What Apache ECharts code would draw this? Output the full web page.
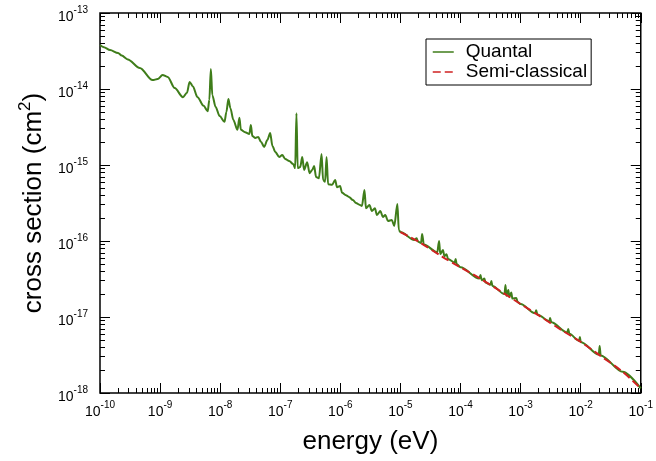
<!DOCTYPE html>
<html>
<head>
<meta charset="utf-8">
<script src="https://cdn.jsdelivr.net/npm/echarts@6/dist/echarts.min.js"></script>
<style>
    html, body { margin: 0; padding: 0; background: #fff; }
    #chart { width: 656px; height: 461px; }
</style>
</head>
<body>
<div id="chart"></div>
<script>
// energy (eV) and cross section (cm^2)
const quantalEnergy = [
    1e-10, 1.16e-10, 1.47e-10, 2e-10, 2.3e-10, 2.9e-10, 4.6e-10, 7.5e-10, 9.1e-10,
    1.1e-9, 1.34e-9, 1.75e-9, 2.4e-9, 2.8e-9, 3.1e-9, 3.5e-9, 4.2e-9, 5.3e-9, 6.2e-9, 6.6e-9, 7.0e-9, 7.4e-9, 8.4e-9, 9.8e-9,
    1.18e-8, 1.27e-8, 1.37e-8, 1.48e-8, 1.66e-8, 1.94e-8, 2.09e-8, 2.21e-8, 2.6e-8, 3.06e-8, 3.24e-8, 3.43e-8, 3.85e-8, 4.3e-8, 4.8e-8, 5.4e-8, 6.1e-8, 6.8e-8, 7.4e-8, 8.3e-8, 9.6e-8,
    1.08e-7, 1.21e-7, 1.41e-7, 1.64e-7, 1.77e-7, 1.86e-7, 1.95e-7, 2.15e-7, 2.32e-7, 2.5e-7, 2.8e-7, 3.08e-7, 3.4e-7, 3.66e-7, 3.95e-7, 4.4e-7, 4.87e-7, 5.16e-7, 5.57e-7, 5.9e-7, 6.25e-7, 7.3e-7, 8.2e-7, 8.8e-7, 9.9e-7,
    1.07e-6, 1.24e-6, 1.39e-6, 1.62e-6, 1.82e-6, 2.12e-6, 2.29e-6, 2.52e-6, 2.67e-6, 3.05e-6, 3.35e-6, 3.76e-6, 4.06e-6, 4.64e-6, 5.1e-6, 5.6e-6, 6.2e-6, 7.2e-6, 7.9e-6, 8.9e-6, 9.4e-6,
    1e-5, 1.7e-5, 1.86e-5, 1.95e-5, 2.2e-5, 2.3e-5, 2.45e-5, 4.1e-5, 4.4e-5, 4.6e-5, 5.1e-5, 5.4e-5, 5.85e-5, 6.2e-5, 8.0e-5, 8.3e-5, 8.6e-5,
    1e-4, 2.05e-4, 2.15e-4, 2.25e-4, 2.5e-4, 2.6e-4, 3.15e-4, 3.26e-4, 3.4e-4, 5.4e-4, 5.6e-4, 5.8e-4, 6.25e-4, 6.5e-4, 7.0e-4, 7.3e-4, 8.5e-4, 8.9e-4,
    1e-3, 1.75e-3, 1.82e-3, 1.9e-3, 3.0e-3, 3.1e-3, 3.25e-3, 6.0e-3, 6.2e-3, 6.5e-3, 9.4e-3, 9.7e-3,
    1e-2, 2.0e-2, 2.07e-2, 2.15e-2, 5e-2, 1e-1,
]
const quantalSigma = [
    3.8e-14, 3.55e-14, 3.25e-14, 2.98e-14, 2.75e-14, 2.45e-14, 1.89e-14, 1.31e-14, 1.35e-14,
    1.53e-14, 1.44e-14, 1.03e-14, 7.8e-15, 8.9e-15, 1.24e-14, 1.09e-14, 7.8e-15, 6.0e-15, 5.1e-15, 7.2e-15, 1.83e-14, 8.3e-15, 5.8e-15, 4.4e-15,
    3.7e-15, 5.0e-15, 7.4e-15, 5.6e-15, 3.9e-15, 2.9e-15, 4.2e-15, 2.9e-15, 2.7e-15, 2.56e-15, 3.36e-15, 2.4e-15, 2.27e-15, 2.34e-15, 2.0e-15, 1.73e-15, 2.13e-15, 2.64e-15, 1.78e-15, 1.48e-15, 1.27e-15,
    1.35e-15, 1.2e-15, 1.13e-15, 1.03e-15, 9.1e-16, 4.8e-15, 9.1e-16, 9.4e-16, 1.27e-15, 8.6e-16, 1.09e-15, 7.8e-16, 8.6e-16, 9.7e-16, 6.95e-16, 6.7e-16, 1.4e-15, 6.35e-16, 6.0e-16, 1.27e-15, 5.6e-16, 5.5e-16, 6.35e-16, 5.1e-16, 5.3e-16,
    4.3e-16, 4.0e-16, 3.8e-16, 3.46e-16, 3.16e-16, 2.98e-16, 2.89e-16, 4.7e-16, 2.7e-16, 2.98e-16, 2.48e-16, 2.7e-16, 2.2e-16, 2.48e-16, 2.07e-16, 2.2e-16, 1.83e-16, 1.89e-16, 1.58e-16, 3.07e-16, 1.4e-16,
    1.31e-16, 1.03e-16, 1.09e-16, 9.85e-17, 9.4e-17, 1.24e-16, 9.0e-17, 7.1e-17, 1.0e-16, 6.75e-17, 7.6e-17, 6.3e-17, 6.7e-17, 5.8e-17, 5.2e-17, 5.8e-17, 5.0e-17,
    4.5e-17, 3.2e-17, 3.57e-17, 3.05e-17, 3.2e-17, 2.85e-17, 2.65e-17, 2.98e-17, 2.55e-17, 2.0e-17, 2.64e-17, 1.9e-17, 2.27e-17, 1.83e-17, 2.1e-17, 1.75e-17, 1.78e-17, 1.58e-17,
    1.48e-17, 1.12e-17, 1.23e-17, 1.08e-17, 8.8e-18, 9.7e-18, 8.5e-18, 6.25e-18, 6.95e-18, 6.0e-18, 4.85e-18, 5.45e-18,
    4.7e-18, 3.2e-18, 4.16e-18, 3.12e-18, 1.9e-18, 1.15e-18,
]
const semiEnergy = [1e-5, 2e-5, 5e-5, 1e-4, 2e-4, 5e-4, 1e-3, 2e-3, 5e-3, 1e-2, 2e-2, 5e-2, 1e-1]
const semiSigma = [1.31e-16, 9.8e-17, 6.2e-17, 4.5e-17, 3.3e-17, 2.1e-17, 1.48e-17, 1.05e-17, 6.6e-18, 4.7e-18, 3.2e-18, 1.9e-18, 1.15e-18]

// tick labels are powers of ten
const xExponents = [-10, -9, -8, -7, -6, -5, -4, -3, -2, -1]
const yExponents = [-18, -17, -16, -15, -14, -13]
const minorSteps = [2, 3, 4, 5, 6, 7, 8, 9]

const green = '#3f7d1a'
const red = '#d02222'
const font = '"Liberation Sans", Arial, Helvetica, sans-serif'

const decades = exps => exps.map(e => Math.pow(10, e))
// tick positions in log10 units, for the tick-only axes
const minorPos = exps => {
    let out = []
    exps.slice(0, -1).forEach(e => {
        minorSteps.forEach(m => out.push(e + Math.log10(m)))
    })
    return out
}

const powLabel = v => '{b|10}{s|' + Math.round(Math.log10(v)) + '}'
const powRich = {
    b: { fontSize: 14, lineHeight: 24, color: '#000', fontFamily: font },
    s: { fontSize: 10, color: '#000', fontFamily: font, verticalAlign: 'top' },
}

function tickAxis(exps, position, values, length) {
    return {
        type: 'value',
        min: exps[0],
        max: exps[exps.length - 1],
        position: position,
        gridIndex: 0,
        splitLine: { show: false },
        axisLine: { show: false },
        axisLabel: { show: false },
        axisTick: {
            show: true,
            inside: true,
            length: length,
            lineStyle: { color: '#000', width: 1 },
            customValues: values,
        },
    }
}

const chart = echarts.init(document.getElementById('chart'), null, { renderer: 'canvas' })

chart.setOption({
    animation: false,
    backgroundColor: '#fff',
    grid: {
        left: 100,
        right: 13,
        top: 13,
        bottom: 68,
        show: true,
        borderColor: '#000',
        borderWidth: 1.5,
        backgroundColor: 'transparent',
    },
    legend: {
        orient: 'vertical',
        left: 426,
        top: 39,
        padding: [3, 4, 3, 6],
        itemGap: 0,
        itemWidth: 21,
        itemHeight: 14,
        borderColor: '#000',
        borderWidth: 1,
        backgroundColor: '#fff',
        itemStyle: { opacity: 0 },
        lineStyle: { width: 1.5 },
        textStyle: { fontSize: 19, fontFamily: font, color: '#000', lineHeight: 20, padding: [0, 0, 0, 7] },
        data: ['Quantal', 'Semi-classical'],
    },
    xAxis: [
        {
            type: 'log',
            logBase: 10,
            min: 1e-10,
            max: 1e-1,
            position: 'bottom',
            splitLine: { show: false },
            axisLine: { show: false },
            axisTick: { show: false },
            name: 'energy (eV)',
            nameLocation: 'middle',
            nameGap: 36,
            nameTextStyle: { fontSize: 26, fontFamily: font, color: '#000' },
            axisLabel: {
                margin: 7,
                formatter: powLabel,
                rich: powRich,
                customValues: decades(xExponents),
            },
        },
        tickAxis(xExponents, 'bottom', xExponents, 10),
        tickAxis(xExponents, 'bottom', minorPos(xExponents), 5),
        tickAxis(xExponents, 'top', xExponents, 10),
        tickAxis(xExponents, 'top', minorPos(xExponents), 5),
    ],
    yAxis: [
        {
            type: 'log',
            logBase: 10,
            min: 1e-18,
            max: 1e-13,
            position: 'left',
            splitLine: { show: false },
            axisLine: { show: false },
            axisTick: { show: false },
            name: '{a|cross section (cm}{s|2}{a|)}',
            nameLocation: 'middle',
            nameGap: 49,
            nameTextStyle: {
                rich: {
                    a: { fontSize: 26, fontFamily: font, color: '#000', lineHeight: 34 },
                    s: { fontSize: 17, fontFamily: font, color: '#000', verticalAlign: 'top' },
                },
            },
            axisLabel: {
                margin: 12,
                padding: [9, 0, 0, 0],
                formatter: powLabel,
                rich: powRich,
                customValues: decades(yExponents),
            },
        },
        tickAxis(yExponents, 'left', yExponents, 10),
        tickAxis(yExponents, 'left', minorPos(yExponents), 5),
        tickAxis(yExponents, 'right', yExponents, 10),
        tickAxis(yExponents, 'right', minorPos(yExponents), 5),
    ],
    series: [
        {
            name: 'Quantal',
            type: 'line',
            xAxisIndex: 0,
            yAxisIndex: 0,
            symbol: 'none',
            showSymbol: false,
            smooth: 0.3,
            smoothMonotone: 'x',
            data: quantalEnergy.map((e, i) => [e, quantalSigma[i]]),
            itemStyle: { color: green },
            lineStyle: { color: green, width: 2 },
            z: 2,
        },
        {
            name: 'Semi-classical',
            type: 'line',
            xAxisIndex: 0,
            yAxisIndex: 0,
            symbol: 'none',
            showSymbol: false,
            smooth: 0.3,
            data: semiEnergy.map((e, i) => [e, semiSigma[i]]),
            itemStyle: { color: red },
            lineStyle: { color: red, width: 2, type: [8, 4] },
            z: 3,
        },
    ],
})
</script>
</body>
</html>
